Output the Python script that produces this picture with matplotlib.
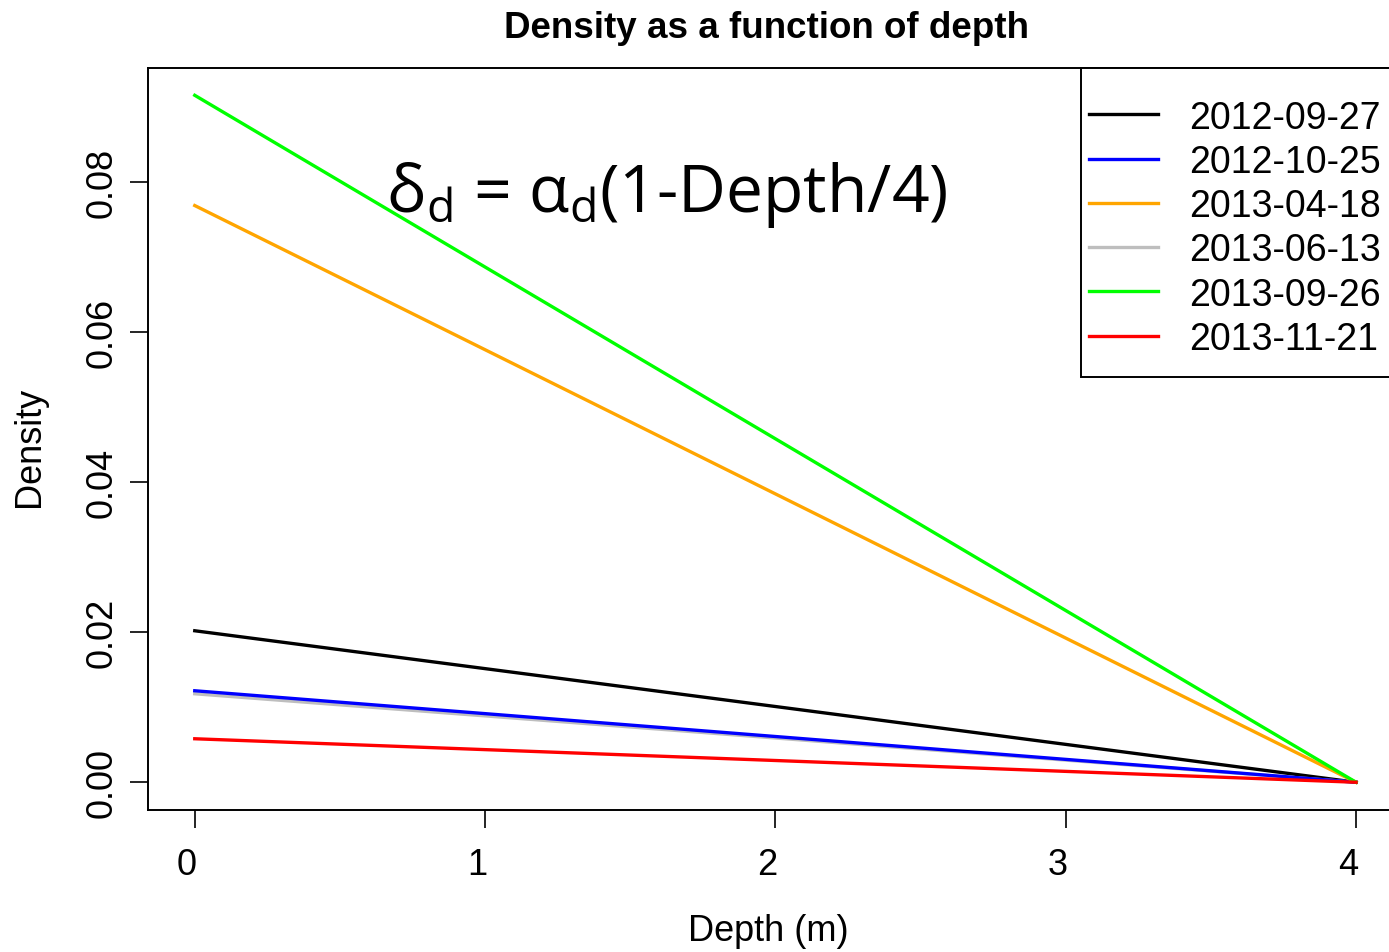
import matplotlib.pyplot as plt
from matplotlib.patches import Rectangle
from matplotlib.transforms import ScaledTranslation

plt.rcParams['font.family'] = ['Liberation Sans', 'DejaVu Sans']
plt.rcParams['mathtext.fontset'] = 'custom'
plt.rcParams['mathtext.rm'] = 'Open Sans'
plt.rcParams['mathtext.it'] = 'Open Sans'

# depth at both ends of each line (m)
depth = [0, 4]

dates = ['2012-09-27', '2012-10-25', '2013-04-18',
         '2013-06-13', '2013-09-26', '2013-11-21']
colors = ['black', 'blue', 'orange', '#bebebe', '#00ff00', 'red']

# density at surface and at 4 m
dens_0927 = [0.0202, 0.0]
dens_1025 = [0.0122, 0.0]
dens_0418 = [0.0769, 0.0]
dens_0613 = [0.0118, 0.0]
dens_0926 = [0.0916, 0.0]
dens_1121 = [0.0058, 0.0]
series = [dens_0927, dens_1025, dens_0418, dens_0613, dens_0926, dens_1121]

W, H = 1389, 953
fig = plt.figure(figsize=(W / 100, H / 100), dpi=100)
ax_l, ax_r, ax_t, ax_b = 148.3, 1402.5, 69.3, 810.7
ax = fig.add_axes([ax_l / W, 1 - ax_b / H, (ax_r - ax_l) / W, (ax_b - ax_t) / H])

# gray goes under blue
order = [0, 3, 1, 2, 4, 5]
handles = {}
for i in order:
    h, = ax.plot(depth, series[i], color=colors[i], lw=2.4, label=dates[i])
    handles[i] = h

ax.set_xlim(-0.16, 4.16)
ax.set_ylim(-0.00366, 0.0952)
ax.set_xticks([0, 1, 2, 3, 4])
ax.set_yticks([0.0, 0.02, 0.04, 0.06, 0.08])
ax.set_yticklabels(['0.00', '0.02', '0.04', '0.06', '0.08'], rotation=90, va='center')
ax.tick_params(direction='out', length=13, width=1.2, labelsize=26)
ax.tick_params(axis='y', pad=8)
ax.tick_params(axis='x', pad=14)
shift = ScaledTranslation(-8 / 100, 0, fig.dpi_scale_trans)
for lab in ax.get_xticklabels():
    lab.set_transform(lab.get_transform() + shift)
for s in ax.spines.values():
    s.set_linewidth(1.4)

# legend box, drawn by hand so it can run off the right edge like the original
lx = (1081 - ax_l) / (ax_r - ax_l)
ly = (ax_b - 378) / (ax_b - ax_t)
ax.add_patch(Rectangle((lx, ly), 1 - lx, 1 - ly, transform=ax.transAxes,
                       facecolor='white', edgecolor='black', lw=1.4,
                       zorder=5, clip_on=False))
leg = ax.legend([handles[i] for i in range(6)], dates,
                loc='upper left', bbox_to_anchor=(lx, 1.0 - 23 / (ax_b - ax_t)),
                borderaxespad=0, fontsize=27, frameon=False,
                handlelength=1.82, handletextpad=0.85, labelspacing=0.22,
                borderpad=0.22)
leg.set_zorder(6)

ax.text(0.66, 0.0762, r'$\mathrm{\delta_{d}}$ = $\mathrm{\alpha_{d}}$(1-Depth/4)',
        fontsize=47.5, family='Open Sans', va='baseline', ha='left')

fig.text(767 / W, 1 - 28 / H, 'Density as a function of depth',
         fontsize=26.5, fontweight='bold', ha='center', va='center')
fig.text(768 / W, 1 - 932 / H, 'Depth (m)', fontsize=26, ha='center', va='center')
fig.text(30 / W, 1 - 447 / H, 'Density', fontsize=26, ha='center', va='center', rotation=90)

fig.savefig('out.png', dpi=100)
